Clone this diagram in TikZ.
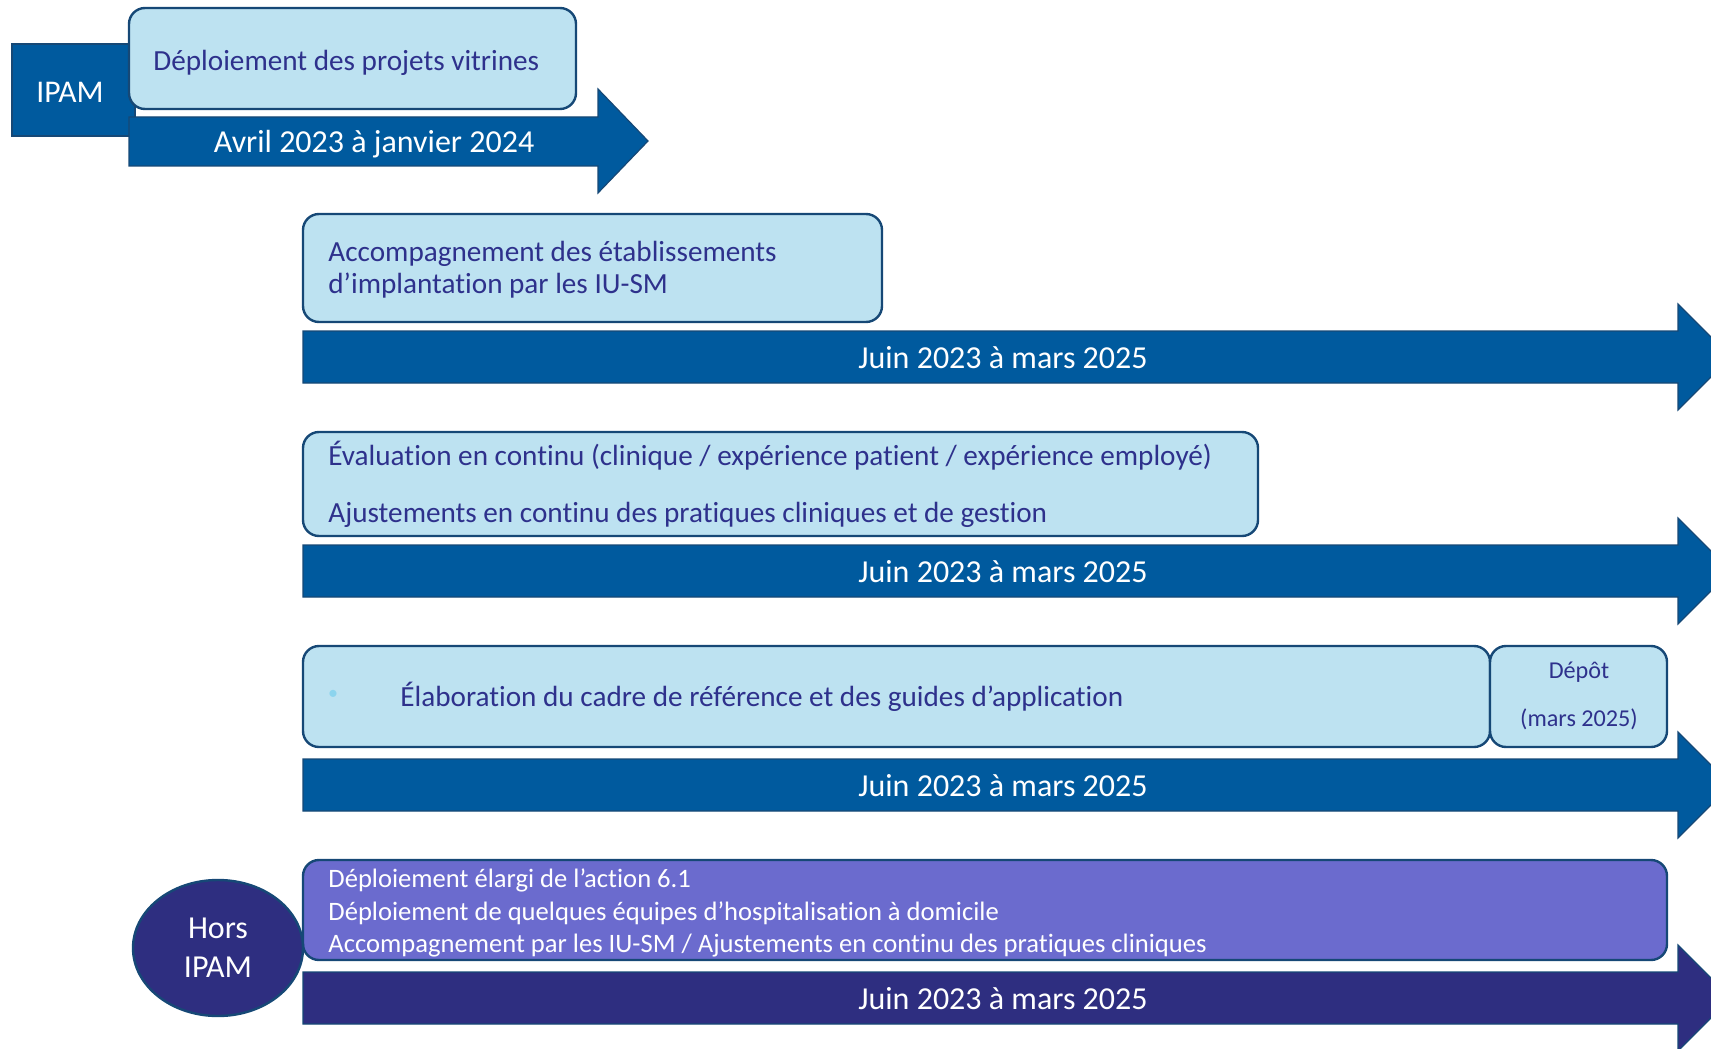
\documentclass[tikz,border=0pt]{standalone}
\usepackage{fontspec}
\setmainfont{Carlito}[Ligatures=NoCommon]
\usetikzlibrary{shapes.geometric}
\definecolor{arrowblue}{RGB}{0,90,158}
\definecolor{edgeblue}{RGB}{22,72,118}
\definecolor{boxblue}{RGB}{189,226,241}
\definecolor{inkblue}{RGB}{46,49,140}
\definecolor{lilac}{RGB}{107,107,206}
\definecolor{navy}{RGB}{46,46,128}
\definecolor{dotblue}{RGB}{140,212,238}

\begin{document}
\begin{tikzpicture}[x=0.5pt,y=-0.5pt,
  box/.style={draw=edgeblue, line width=1.2pt, fill=boxblue, rounded corners=8pt},
  arrowshape/.style={draw=edgeblue, line width=0.6pt, fill=arrowblue},
  boxtext/.style={text=inkblue, font=\fontsize{14.6}{16}\selectfont, inner sep=0pt, align=left},
  datetext/.style={text=white, font=\fontsize{16}{18}\selectfont, inner sep=0pt}]
\clip (0,0) rectangle (1711,1048);
\useasboundingbox (0,0) rectangle (1711,1048);

% IPAM
\draw[arrowshape] (12,44) rectangle (135,136);
\node[text=white, font=\fontsize{15.8}{18}\selectfont, inner sep=0pt] (ipam) at (70,92) {IPAM};
\draw[box] (129,8) rectangle (576,109);
\node[boxtext, anchor=west] (vitrines) at (153,63) {Déploiement des projets vitrines};
\draw[arrowshape] (129,117) -- (598,117) -- (598,89) -- (648,141) -- (598,193) -- (598,166) -- (129,166) -- cycle;
\node[datetext] (avril) at (374,144) {Avril 2023 à janvier 2024};

% les trois fleches juin 2023 - mars 2025
\foreach \m/\nm in {357/juinA, 571/juinB, 785/juinC}{
  \draw[arrowshape] (303,\m-26) -- (1678,\m-26) -- (1678,\m-53) -- (1731,\m) -- (1678,\m+53) -- (1678,\m+26) -- (303,\m+26) -- cycle;
  \node[datetext] (\nm) at (1003,\m+1) {Juin 2023 à mars 2025};
}

\draw[box] (303,214) rectangle (882,322);
\node[boxtext, anchor=west] (accomp) at (328,270) {Accompagnement des établissements\\d’implantation par les IU-SM};

\draw[box] (303,432) rectangle (1258,536);
\node[boxtext, anchor=west] (evalu) at (328,456) {Évaluation en continu (clinique / expérience patient / expérience employé)};
\node[boxtext, anchor=west] (ajust) at (328,515) {Ajustements en continu des pratiques cliniques et de gestion};

\draw[box] (303,646) rectangle (1490,747);
\node[text=dotblue, font=\fontsize{10}{12}\selectfont, inner sep=0pt] (puce) at (333,695) {•};
\node[boxtext, anchor=west] (cadre) at (400,697) {Élaboration du cadre de référence et des guides d’application};
\draw[box] (1490,646) rectangle (1667,747);
\node[boxtext, font=\fontsize{12.1}{14}\selectfont] (depot) at (1579,672) {Dépôt};
\node[boxtext, font=\fontsize{12.1}{14}\selectfont] (marsdepot) at (1579,719) {(mars 2025)};

% hors IPAM
\draw[arrowshape, fill=navy] (303,972) -- (1678,972) -- (1678,945) -- (1731,998) -- (1678,1051) -- (1678,1024) -- (303,1024) -- cycle;
\node[datetext] (juinD) at (1003,999) {Juin 2023 à mars 2025};
\draw[box, fill=lilac] (303,860) rectangle (1667,960);
\node[boxtext, text=white, anchor=west, font=\fontsize{13.3}{16.25}\selectfont] (elargi) at (328,913) {Déploiement élargi de l’action 6.1\\Déploiement de quelques équipes d’hospitalisation à domicile\\Accompagnement par les IU-SM / Ajustements en continu des pratiques cliniques};
\node[ellipse, draw=edgeblue, line width=1.2pt, fill=navy, minimum width=85pt, minimum height=68pt, text=white, align=center, font=\fontsize{16}{19.5}\selectfont, inner sep=0pt] (hors) at (218,948) {Hors\\IPAM};

\end{tikzpicture}
\end{document}
